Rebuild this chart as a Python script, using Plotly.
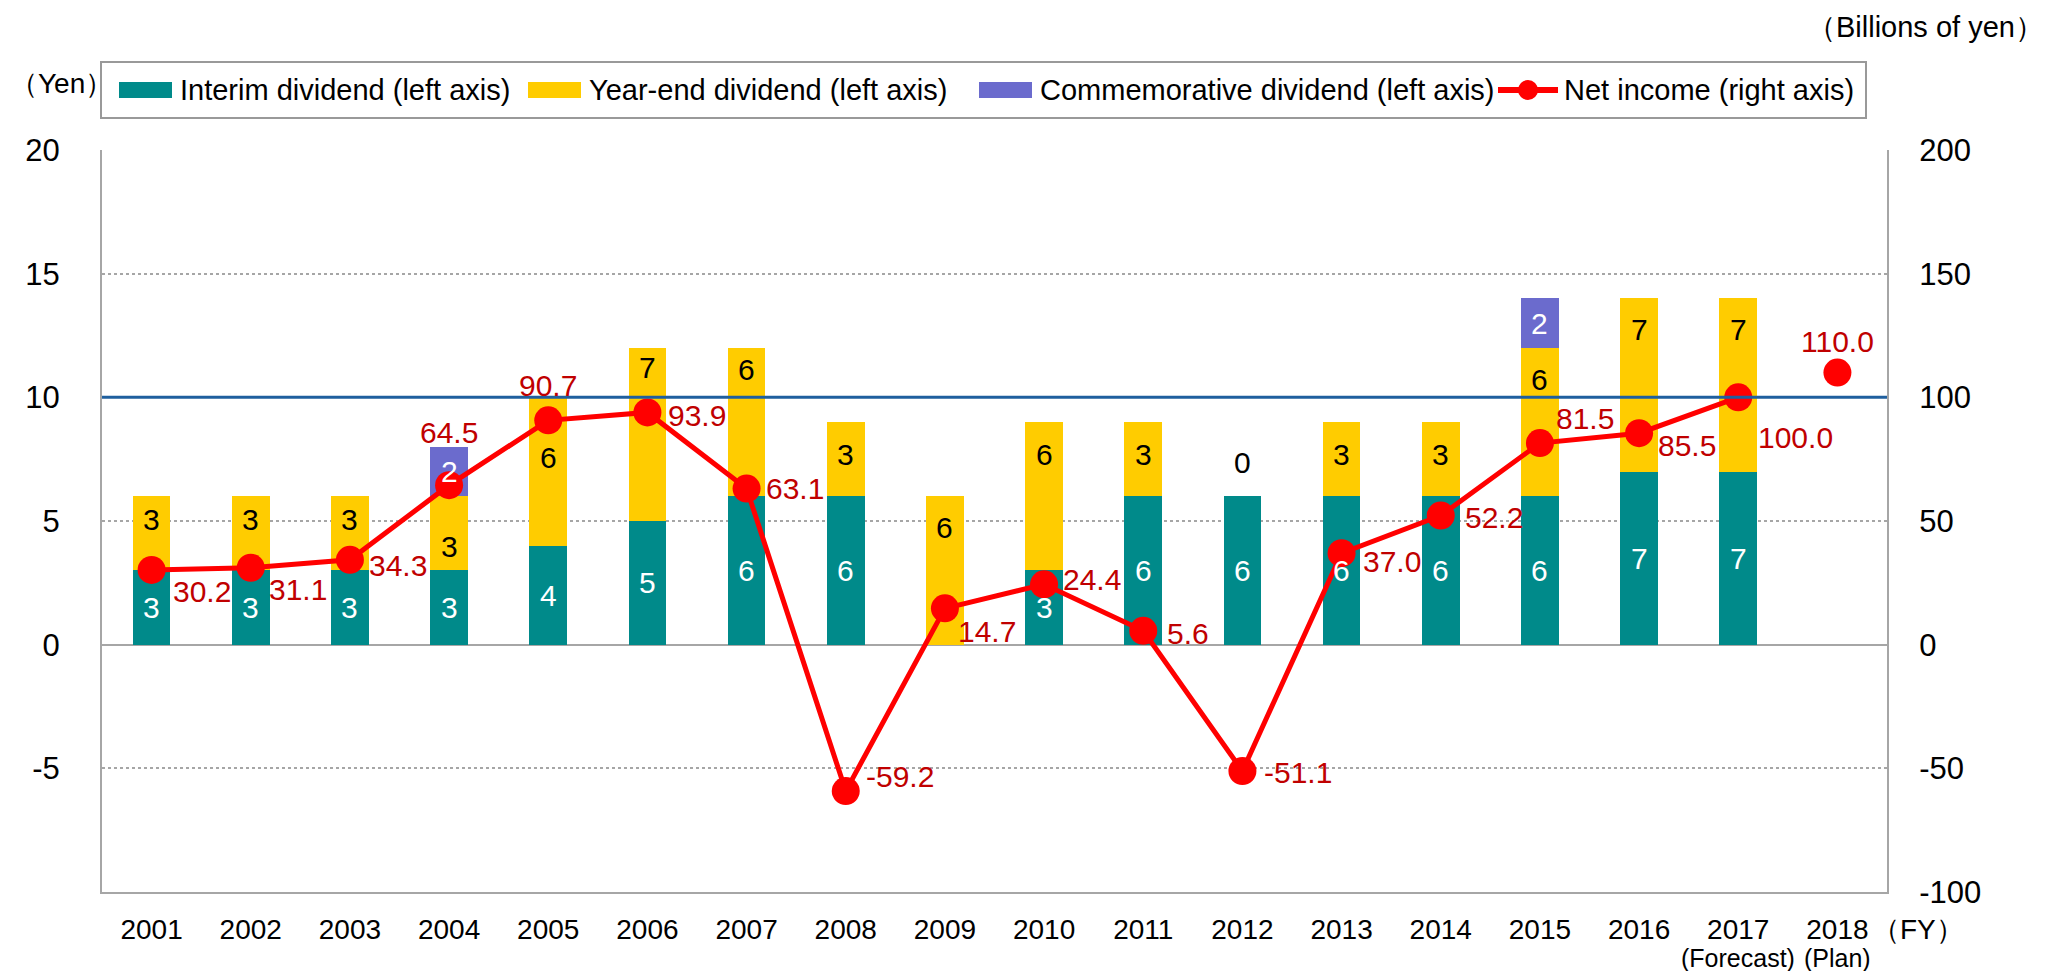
import plotly.graph_objects as go

# ---------------- data ----------------
years = [str(y) for y in range(2001, 2019)]
interim = [3, 3, 3, 3, 4, 5, 6, 6, 0, 3, 6, 6, 6, 6, 6, 7, 7, None]
year_end = [3, 3, 3, 3, 6, 7, 6, 3, 6, 6, 3, 0, 3, 3, 6, 7, 7, None]
commemorative = [0, 0, 0, 2, 0, 0, 0, 0, 0, 0, 0, 0, 0, 0, 2, 0, 0, None]
net_income = [30.2, 31.1, 34.3, 64.5, 90.7, 93.9, 63.1, -59.2, 14.7, 24.4,
              5.6, -51.1, 37.0, 52.2, 81.5, 85.5, 100.0, 110.0]
left_ticks = [-5, 0, 5, 10, 15, 20]
right_ticks = [-100, -50, 0, 50, 100, 150, 200]
sub_labels = {"2017": "(Forecast)", "2018": "(Plan)"}
series_names = ["Interim dividend (left axis)", "Year-end dividend (left axis)",
                "Commemorative dividend (left axis)", "Net income (right axis)"]

# ---------------- style ----------------
FONT = "Arial, Liberation Sans, sans-serif"
C_INT = "#008A8A"
C_YE = "#FFCC00"
C_COM = "#6B6BCD"
C_NI = "#FF0000"
C_NI_LBL = "#C00000"
C_GRID = "#A6A6A6"
C_REF = "#1F5F9E"

W, H = 2049, 971
OFF = 8                      # default page (body) margin
PL, PT, PW, PH = 102, 150, 1785, 742   # plot area on the page
FW, FH = W - OFF, H - OFF
ML, MT = PL - OFF, PT - OFF
MR, MB = FW - ML - PW, FH - MT - PH

def px2x(px):
    return (px - PL) / PW

def px2y(py):
    return (PT + PH - py) / PH

# label offsets (pixels): year-end label shift, net income label dx / dy
ye_shift = [-23, -23, -23, -50, -60, -20, -22, -32, -31, -32, -32, 34, -32, -32, -32, -31, -31, 0]
ni_dx = [50, 47, 48, 0, 0, 50, 48, 54, 42, 48, 45, 56, 50, 53, 45, 48, 57, 0]
ni_dy = [22, 22, 6, -53, -35, 3, 0, -15, 23, -5, 3, 1, 8, 2, -25, 12, 40, -31]

fig = go.Figure()
BW = 0.38
fig.add_trace(go.Bar(x=years, y=interim, name=series_names[0], marker_color=C_INT,
                     width=BW, marker_line_width=0, showlegend=False))
fig.add_trace(go.Bar(x=years, y=year_end, name=series_names[1], marker_color=C_YE,
                     width=BW, marker_line_width=0, showlegend=False))
fig.add_trace(go.Bar(x=years, y=commemorative, name=series_names[2], marker_color=C_COM,
                     width=BW, marker_line_width=0, showlegend=False))
fig.add_trace(go.Scatter(x=years[:17], y=net_income[:17], name=series_names[3], yaxis="y2",
                         mode="lines+markers", line=dict(color=C_NI, width=5),
                         marker=dict(color=C_NI, size=28), showlegend=False))
fig.add_trace(go.Scatter(x=years[17:], y=net_income[17:], name="Net income plan", yaxis="y2",
                         mode="markers", marker=dict(color=C_NI, size=28), showlegend=False))

ann = []
shapes = []

def label(x, y, text, size, color, xref="x", yref="y", **kw):
    d = dict(x=x, y=y, xref=xref, yref=yref, text=text, showarrow=False,
             xanchor="center", yanchor="middle",
             font=dict(family=FONT, size=size, color=color))
    d.update(kw)
    ann.append(d)

# dividend labels (category index positions on the category axis)
for i, yr in enumerate(years):
    if interim[i] is None:
        continue
    if interim[i]:
        label(i, interim[i] / 2, str(interim[i]), 30, "white")
    top = interim[i] + year_end[i]
    label(i, top, str(year_end[i]), 30, "black", yshift=ye_shift[i])
    if commemorative[i]:
        label(i, top + commemorative[i] / 2, str(commemorative[i]), 30, "white")
# net income labels
for i, yr in enumerate(years):
    label(i, net_income[i], f"{net_income[i]:.1f}", 30, C_NI_LBL, yref="y2",
          xshift=ni_dx[i], yshift=-ni_dy[i])
# sub labels under ticks
for yr, t in sub_labels.items():
    label(years.index(yr), px2y(958), t, 25, "black", yref="paper")
# unit labels
label(px2x(61), px2y(83), "（Yen）", 28, "black", xref="paper", yref="paper")
label(px2x(1926), px2y(27), "（Billions of yen）", 29, "black", xref="paper", yref="paper")
label(px2x(1918), px2y(929), "（FY）", 28, "black", xref="paper", yref="paper")

# reference line at 10 yen / 100 bn
shapes.append(dict(type="line", xref="paper", yref="y", x0=0, x1=1, y0=10, y1=10,
                   line=dict(color=C_REF, width=3), layer="above"))

# custom legend
shapes.append(dict(type="rect", xref="paper", yref="paper", x0=px2x(101), x1=px2x(1866),
                   y0=px2y(118), y1=px2y(62), line=dict(color="#999999", width=2),
                   fillcolor="white", layer="below"))
text_starts = [178, 587, 1038, 1562]
for k, col in enumerate([C_INT, C_YE, C_COM]):
    x1 = text_starts[k] - 6
    shapes.append(dict(type="rect", xref="paper", yref="paper", x0=px2x(x1 - 53), x1=px2x(x1),
                       y0=px2y(98), y1=px2y(82), line=dict(width=0), fillcolor=col))
shapes.append(dict(type="line", xref="paper", yref="paper", x0=px2x(1498), x1=px2x(1558),
                   y0=px2y(90), y1=px2y(90), line=dict(color=C_NI, width=6)))
shapes.append(dict(type="circle", xref="paper", yref="paper", x0=px2x(1518), x1=px2x(1538),
                   y0=px2y(100), y1=px2y(80), line=dict(width=0), fillcolor=C_NI))
for k, name in enumerate(series_names):
    label(px2x(text_starts[k]), px2y(90), name, 29, "black", xref="paper", yref="paper",
          xanchor="left")

fig.update_layout(
    width=FW, height=FH,
    margin=dict(l=ML, r=MR, t=MT, b=MB, pad=0),
    paper_bgcolor="white", plot_bgcolor="white",
    barmode="stack",
    font=dict(family=FONT, color="black"),
    showlegend=False,
    annotations=ann, shapes=shapes,
    xaxis=dict(type="category", categoryorder="array", categoryarray=years,
               range=[-0.5, 17.5], showgrid=False, zeroline=False,
               showline=True, linecolor=C_GRID, linewidth=2, ticks="",
               tickfont=dict(family=FONT, size=28), ticklabelstandoff=11),
    yaxis=dict(range=[-10, 20], tickvals=left_ticks, ticktext=[str(v) for v in left_ticks],
               showgrid=True, gridcolor=C_GRID,
               griddash="dot", gridwidth=1.5, zeroline=True, zerolinecolor=C_GRID,
               zerolinewidth=2, showline=True, linecolor=C_GRID, linewidth=2, ticks="",
               tickfont=dict(family=FONT, size=31), ticklabelstandoff=34),
    yaxis2=dict(range=[-100, 200], tickvals=right_ticks, ticktext=[str(v) for v in right_ticks],
                overlaying="y", side="right",
                showgrid=False, zeroline=False, showline=True, linecolor=C_GRID,
                linewidth=2, ticks="", tickfont=dict(family=FONT, size=31),
                ticklabelstandoff=24),
)

fig.write_html("out.html")
